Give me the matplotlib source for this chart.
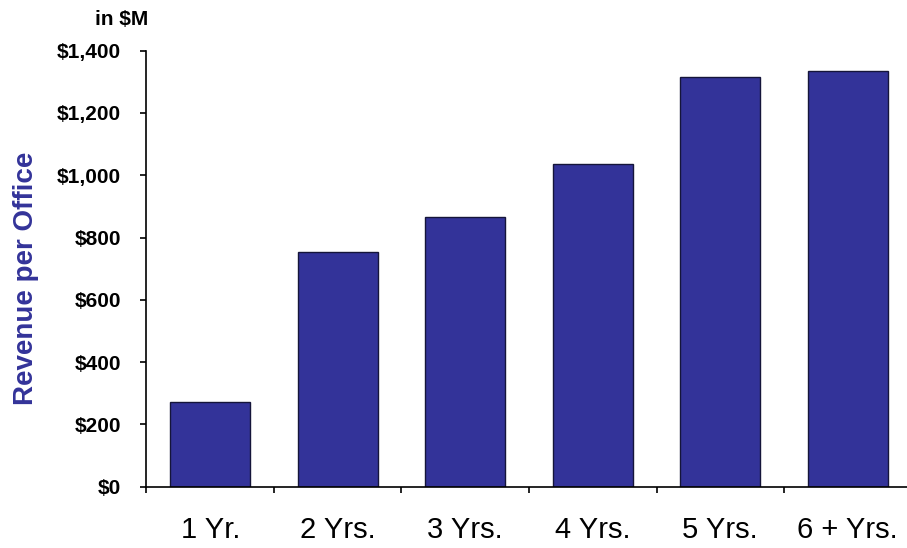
import matplotlib.pyplot as plt
import numpy as np

plt.rcParams['font.family'] = ['Liberation Sans', 'DejaVu Sans']

# Revenue per office by office age, in $M
categories = ["1 Yr.", "2 Yrs.", "3 Yrs.", "4 Yrs.", "5 Yrs.", "6 + Yrs."]
revenue = [272, 755, 867, 1036, 1315, 1336]
ytick_values = [0, 200, 400, 600, 800, 1000, 1200, 1400]

bar_color = "#333399"

fig = plt.figure(figsize=(9.07, 5.48), dpi=100)
ax = fig.add_axes([0.1615, 0.1119, 0.8435, 0.7956])

x = np.arange(len(categories))
ax.bar(x, revenue, width=0.63, color=bar_color, edgecolor="#15153a", linewidth=1.0)

ax.set_xlim(-0.5, len(categories) - 0.5)
ax.set_ylim(0, 1400)

# y axis: dollar ticks
ax.set_yticks(ytick_values)
ax.set_yticklabels([f"${v:,}" for v in ytick_values], fontsize=15, fontweight="bold")
ax.tick_params(axis="y", direction="out", length=4.3, width=1.2, pad=14)

# x axis: tick marks between categories, labels centred under bars
ax.set_xticks(np.arange(-0.5, len(categories), 1.0))
ax.set_xticklabels([])
ax.set_xticks(x, minor=True)
ax.set_xticklabels(categories, minor=True, fontsize=21)
ax.tick_params(axis="x", which="major", direction="out", length=4.3, width=1.2)
ax.tick_params(axis="x", which="minor", length=0, pad=21)

for side in ["top", "right"]:
    ax.spines[side].set_visible(False)
for side in ["left", "bottom"]:
    ax.spines[side].set_linewidth(1.2)

fig.text(0.029, 0.492, "Revenue per Office", rotation=90, color=bar_color,
         fontsize=20, fontweight="bold", ha="center", va="center")
fig.text(0.163, 0.965, "in $M", fontsize=15, fontweight="bold", ha="right", va="center")

fig.savefig("out.png", dpi=100)
